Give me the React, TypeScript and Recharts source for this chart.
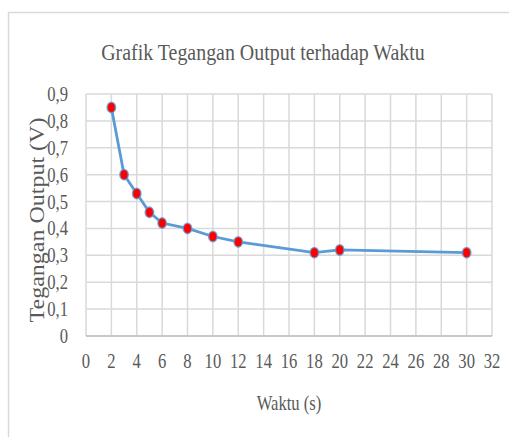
import React from "react";
import {
  LineChart,
  Line,
  XAxis,
  YAxis,
  CartesianGrid,
  Label,
} from "recharts";

// waktu (s) vs tegangan output (V)
const waktu = [2, 3, 4, 5, 6, 8, 10, 12, 18, 20, 30];
const tegangan = [0.85, 0.6, 0.53, 0.46, 0.42, 0.4, 0.37, 0.35, 0.31, 0.32, 0.31];

const xTicks = [0, 2, 4, 6, 8, 10, 12, 14, 16, 18, 20, 22, 24, 26, 28, 30, 32];
const yTicks = [0, 0.1, 0.2, 0.3, 0.4, 0.5, 0.6, 0.7, 0.8, 0.9];

const data = waktu.map((t, i) => ({ t, v: tegangan[i] }));

const FONT = "'Liberation Serif', 'Times New Roman', serif";
const SQUEEZE = 0.83; // the source image is narrowed horizontally
const TEXT = "#595959";

const fmtY = (v: number) => (v === 0 ? "0" : v.toFixed(1).replace(".", ","));

function XTick(props: any) {
  const { x, y, payload } = props;
  return (
    <text
      transform={`translate(${x},${y + 24}) scale(${SQUEEZE},1)`}
      textAnchor="middle"
      fontFamily={FONT}
      fontSize={20}
      fill={TEXT}
    >
      {payload.value}
    </text>
  );
}

function YTick(props: any) {
  const { x, y, payload } = props;
  return (
    <text
      transform={`translate(${x - 10},${y + 7}) scale(${SQUEEZE},1)`}
      textAnchor="end"
      fontFamily={FONT}
      fontSize={20}
      fill={TEXT}
    >
      {fmtY(payload.value)}
    </text>
  );
}

function Dot(props: any) {
  const { cx, cy } = props;
  if (cx == null || cy == null) return null;
  return (
    <ellipse
      cx={cx}
      cy={cy}
      rx={4.2}
      ry={5.2}
      fill="#ff0000"
      stroke="#5b9bd5"
      strokeOpacity={0.75}
      strokeWidth={1.6}
    />
  );
}

function YLabel(props: any) {
  const vb = props.viewBox || {};
  const cy = (vb.y ?? 0) + (vb.height ?? 0) / 2;
  return (
    <text
      transform={`translate(37,${cy + 5}) scale(${SQUEEZE},1) rotate(-90)`}
      textAnchor="middle"
      dominantBaseline="central"
      fontFamily={FONT}
      fontSize={24}
      fill={TEXT}
    >
      Tegangan  Output (V)
    </text>
  );
}

function XLabel(props: any) {
  const vb = props.viewBox || {};
  const cx = (vb.x ?? 0) + (vb.width ?? 0) / 2;
  return (
    <text
      transform={`translate(${cx},410) scale(${SQUEEZE},1)`}
      textAnchor="middle"
      fontFamily={FONT}
      fontSize={20}
      fill={TEXT}
    >
      Waktu (s)
    </text>
  );
}

export default function App() {
  return (
    <div style={{ position: "absolute", left: 0, top: 0, width: 509, height: 437, background: "#fff", overflow: "hidden" }}>
      <svg width={509} height={437} style={{ position: "absolute", left: 0, top: 0 }}>
        <rect x={8.5} y={12.5} width={700} height={700} fill="none" stroke="#d9d9d9" strokeWidth={1.5} />
        <text
          transform={`translate(263,60) scale(${SQUEEZE},1)`}
          textAnchor="middle"
          fontFamily={FONT}
          fontSize={24}
          fill={TEXT}
        >
          Grafik Tegangan Output terhadap Waktu
        </text>
      </svg>
      <div style={{ position: "absolute", left: 0, top: 0 }}>
        <LineChart
          width={509}
          height={437}
          data={data}
          margin={{ top: 94, right: 17, bottom: 71, left: 0 }}
        >
          <CartesianGrid stroke="#d9d9d9" strokeWidth={1.5} />
          <XAxis
            dataKey="t"
            type="number"
            domain={[0, 32]}
            ticks={xTicks}
            interval={0}
            height={30}
            tick={<XTick />}
            tickLine={false}
            axisLine={{ stroke: "#bfbfbf", strokeWidth: 1.5 }}
          >
            <Label content={<XLabel />} />
          </XAxis>
          <YAxis
            type="number"
            domain={[0, 0.9]}
            ticks={yTicks}
            interval={0}
            width={86}
            tick={<YTick />}
            tickLine={false}
            axisLine={false}
          >
            <Label content={<YLabel />} />
          </YAxis>
          <Line
            dataKey="v"
            stroke="#5b9bd5"
            strokeWidth={2.8}
            dot={<Dot />}
            activeDot={false}
            isAnimationActive={false}
          />
        </LineChart>
      </div>
    </div>
  );
}
